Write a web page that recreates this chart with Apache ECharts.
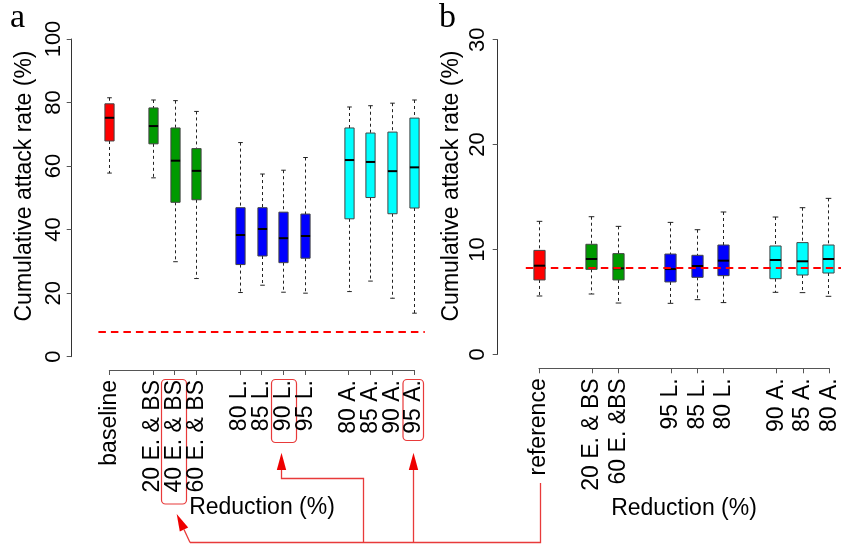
<!DOCTYPE html>
<html>
<head>
	<meta charset="utf-8" />
	<title>Cumulative attack rate boxplots</title>
	<style type="text/css">
		html, body { margin: 0; padding: 0; background: #fff; }
		#main { width: 841px; height: 545px; }
	</style>
	<script src="https://cdn.jsdelivr.net/npm/echarts@6.0.0/dist/echarts.min.js"></script>
</head>
<body>
	<div id="main"></div>
	<script type="text/javascript">
		// panel a
		const labelsA = ['baseline', '20 E. & BS', '40 E. & BS', '60 E. & BS', '80 L.', '85 L.', '90 L.', '95 L.', '80 A.', '85 A.', '90 A.', '95 A.'];
		const posA = [1, 3, 4, 5, 7, 8, 9, 10, 12, 13, 14, 15];
		const groupA = ['r', 'g', 'g', 'g', 'b', 'b', 'b', 'b', 'c', 'c', 'c', 'c'];
		const lowA = [57.8, 56.3, 29.9, 24.6, 20.2, 22.5, 20.3, 20.0, 20.5, 23.8, 18.4, 13.7];
		const q1A = [67.9, 67.0, 48.6, 49.4, 29.0, 31.7, 29.6, 31.0, 43.4, 50.1, 45.0, 46.8];
		const medA = [75.2, 72.6, 61.7, 58.5, 38.3, 40.2, 37.3, 38.0, 61.9, 61.3, 58.4, 59.6];
		const q3A = [79.6, 78.3, 72.0, 65.5, 46.9, 46.9, 45.5, 44.9, 72.0, 70.4, 70.7, 75.1];
		const highA = [81.5, 80.8, 80.6, 77.2, 67.4, 57.5, 58.7, 62.7, 78.6, 79.0, 79.8, 80.8];
		const refA = 7.7;

		// panel b
		const labelsB = ['reference', '20 E. & BS', '60 E. &BS', '95 L.', '85 L.', '80 L.', '90 A.', '85 A.', '80 A.'];
		const posB = [1, 3, 4, 6, 7, 8, 10, 11, 12];
		const groupB = ['r', 'g', 'g', 'b', 'b', 'b', 'c', 'c', 'c'];
		const lowB = [5.56, 5.75, 4.89, 4.86, 5.21, 4.93, 5.91, 5.88, 5.53];
		const q1B = [7.09, 8.10, 7.09, 6.90, 7.34, 7.50, 7.21, 7.56, 7.75];
		const medB = [8.45, 9.09, 8.20, 8.13, 8.42, 8.93, 8.99, 8.87, 9.09];
		const q3B = [9.91, 10.49, 9.60, 9.56, 9.44, 10.42, 10.33, 10.65, 10.42];
		const highB = [12.68, 13.12, 12.20, 12.58, 11.88, 13.57, 13.09, 13.98, 14.87];
		const refB = 8.3;

		const fill = { r: '#ff0000', g: '#009a00', b: '#0000ff', c: '#00ffff' };
		const sans = '"Liberation Sans", Arial, Helvetica, sans-serif';
		const serif = '"Liberation Serif", "Times New Roman", serif';
		const annot = '#e83a3a';

		const rows = (pos, lo, q1, md, q3, hi) => pos.map((p, i) => [p, lo[i], q1[i], md[i], q3[i], hi[i]]);

		// R style boxplot drawn through the axes of the grid
		const boxRender = (groups, halfW) => function (params, api) {
			const x = api.value(0);
			const pLo = api.coord([x, api.value(1)]);
			const pQ1 = api.coord([x, api.value(2)]);
			const pMd = api.coord([x, api.value(3)]);
			const pQ3 = api.coord([x, api.value(4)]);
			const pHi = api.coord([x, api.value(5)]);
			const cx = Math.round(pLo[0]) + 0.5;
			const st = halfW / 2;
			const dash = { stroke: '#222', lineWidth: 1, lineDash: [3, 3] };
			const solid = { stroke: '#222', lineWidth: 1 };
			return {
				type: 'group',
				children: [
					{ type: 'line', shape: { x1: cx, y1: pHi[1], x2: cx, y2: pQ3[1] }, style: dash },
					{ type: 'line', shape: { x1: cx, y1: pQ1[1], x2: cx, y2: pLo[1] }, style: dash },
					{ type: 'line', shape: { x1: cx - st, y1: pHi[1], x2: cx + st, y2: pHi[1] }, style: solid },
					{ type: 'line', shape: { x1: cx - st, y1: pLo[1], x2: cx + st, y2: pLo[1] }, style: solid },
					{
						type: 'rect',
						shape: { x: cx - halfW, y: pQ3[1], width: halfW * 2, height: pQ1[1] - pQ3[1] },
						style: { fill: fill[groups[params.dataIndex]], stroke: '#444', lineWidth: 1 }
					},
					{ type: 'line', shape: { x1: cx - halfW, y1: pMd[1], x2: cx + halfW, y2: pMd[1] }, style: { stroke: '#000', lineWidth: 2 } }
				]
			};
		};

		const refLine = (v) => ({
			silent: true,
			symbol: 'none',
			label: { show: false },
			lineStyle: { color: '#ff0000', type: [7.5, 5], width: 2 },
			data: [{ yAxis: v }]
		});

		const valueY = (grid, max, step, offset, margin) => ({
			type: 'value',
			gridIndex: grid,
			min: 0,
			max: max,
			interval: step,
			offset: offset,
			axisLine: { show: true, lineStyle: { color: '#333', width: 1 } },
			axisTick: { show: true, length: 5, lineStyle: { color: '#555' } },
			axisLabel: { rotate: 90, fontSize: 22, fontFamily: sans, color: '#000', margin: margin, showMinLabel: true, showMaxLabel: true },
			splitLine: { show: false }
		});

		// tick axis: one category per slot 1..last, ticks and labels only where a box stands
		const tickX = (grid, pos, labels) => {
			const slots = [];
			for (let p = pos[0]; p <= pos[pos.length - 1]; p++) slots.push(String(p));
			return {
				type: 'category',
				gridIndex: grid,
				data: slots,
				boundaryGap: false,
				position: 'bottom',
				axisLine: { show: true, lineStyle: { color: '#555', width: 1 } },
				axisTick: { show: true, length: 5, interval: (i) => pos.indexOf(i + pos[0]) >= 0, lineStyle: { color: '#555' } },
				axisLabel: {
					interval: 0,
					rotate: 90,
					fontSize: 23,
					fontFamily: sans,
					color: '#000',
					margin: 10,
					formatter: (v) => { const k = pos.indexOf(Number(v)); return k >= 0 ? labels[k] : ''; }
				},
				splitLine: { show: false }
			};
		};

		const options = {
			animation: false,
			grid: [
				{ left: 98.4, top: 39, width: 326.4, height: 317.7 },
				{ left: 109.3, top: 369, width: 304.7, height: 1 },
				{ left: 525.8, top: 39.7, width: 316.7, height: 314.6 },
				{ left: 539, top: 367.3, width: 290.3, height: 1 }
			],
			xAxis: [
				{ type: 'value', gridIndex: 0, min: 0.5, max: 15.5, show: false },
				tickX(1, posA, labelsA),
				{ type: 'value', gridIndex: 2, min: 0.5, max: 12.5, show: false },
				tickX(3, posB, labelsB)
			],
			yAxis: [
				valueY(0, 100, 20, 26.7, 7),
				{ type: 'value', gridIndex: 1, min: 0, max: 1, show: false },
				valueY(2, 30, 10, 28.1, 9),
				{ type: 'value', gridIndex: 3, min: 0, max: 1, show: false }
			],
			series: [
				{
					type: 'custom',
					xAxisIndex: 0,
					yAxisIndex: 0,
					encode: { x: 0, y: [1, 2, 3, 4, 5] },
					data: rows(posA, lowA, q1A, medA, q3A, highA),
					renderItem: boxRender(groupA, 4.6),
					markLine: refLine(refA),
					z: 2
				},
				{
					type: 'custom',
					xAxisIndex: 2,
					yAxisIndex: 2,
					encode: { x: 0, y: [1, 2, 3, 4, 5] },
					data: rows(posB, lowB, q1B, medB, q3B, highB),
					renderItem: boxRender(groupB, 5.6),
					markLine: refLine(refB),
					z: 2
				}
			],
			graphic: [
				{ type: 'text', x: 10, y: 18, style: { text: 'a', font: '34px ' + serif, fill: '#000', verticalAlign: 'middle' } },
				{ type: 'text', x: 439, y: 18, style: { text: 'b', font: '34px ' + serif, fill: '#000', verticalAlign: 'middle' } },
				{ type: 'text', x: 25, y: 186, rotation: Math.PI / 2, style: { text: 'Cumulative attack rate (%)', font: '23px ' + sans, fill: '#000', align: 'center', verticalAlign: 'middle' } },
				{ type: 'text', x: 452, y: 186, rotation: Math.PI / 2, style: { text: 'Cumulative attack rate (%)', font: '23px ' + sans, fill: '#000', align: 'center', verticalAlign: 'middle' } },
				{ type: 'text', x: 262, y: 508, style: { text: 'Reduction (%)', font: '23px ' + sans, fill: '#000', align: 'center', verticalAlign: 'middle' } },
				{ type: 'text', x: 684, y: 509, style: { text: 'Reduction (%)', font: '23px ' + sans, fill: '#000', align: 'center', verticalAlign: 'middle' } },

				// highlighted labels
				{ type: 'rect', shape: { x: 161.5, y: 379.5, width: 25, height: 124.5, r: 4 }, style: { fill: 'none', stroke: annot, lineWidth: 1.2 } },
				{ type: 'rect', shape: { x: 271.5, y: 379.5, width: 25, height: 63, r: 4 }, style: { fill: 'none', stroke: annot, lineWidth: 1.2 } },
				{ type: 'rect', shape: { x: 403, y: 379.5, width: 20.5, height: 61, r: 4 }, style: { fill: 'none', stroke: annot, lineWidth: 1.2 } },

				// arrows from the reference
				{ type: 'polyline', shape: { points: [[190, 542.5], [540.5, 542.5], [540.5, 483]] }, style: { fill: 'none', stroke: annot, lineWidth: 1.3 } },
				{ type: 'polyline', shape: { points: [[190, 542.5], [184, 529.4]] }, style: { fill: 'none', stroke: annot, lineWidth: 1.3 } },
				{ type: 'polyline', shape: { points: [[363.5, 542.5], [363.5, 478.5], [281.5, 478.5], [281.5, 469]] }, style: { fill: 'none', stroke: annot, lineWidth: 1.3 } },
				{ type: 'polyline', shape: { points: [[413.5, 542.5], [413.5, 469]] }, style: { fill: 'none', stroke: annot, lineWidth: 1.3 } },
				{ type: 'polygon', shape: { points: [[281.5, 452.7], [276.8, 470], [286.2, 470]] }, style: { fill: '#ee0000' } },
				{ type: 'polygon', shape: { points: [[413.5, 452.7], [408.8, 470], [418.2, 470]] }, style: { fill: '#ee0000' } },
				{ type: 'polygon', shape: { points: [[176.7, 514], [188.2, 527.4], [179.8, 531.4]] }, style: { fill: '#ee0000' } }
			]
		};

		const myChart = echarts.init(document.getElementById('main'), null, { renderer: 'canvas' });
		myChart.setOption(options);
	</script>
</body>
</html>
